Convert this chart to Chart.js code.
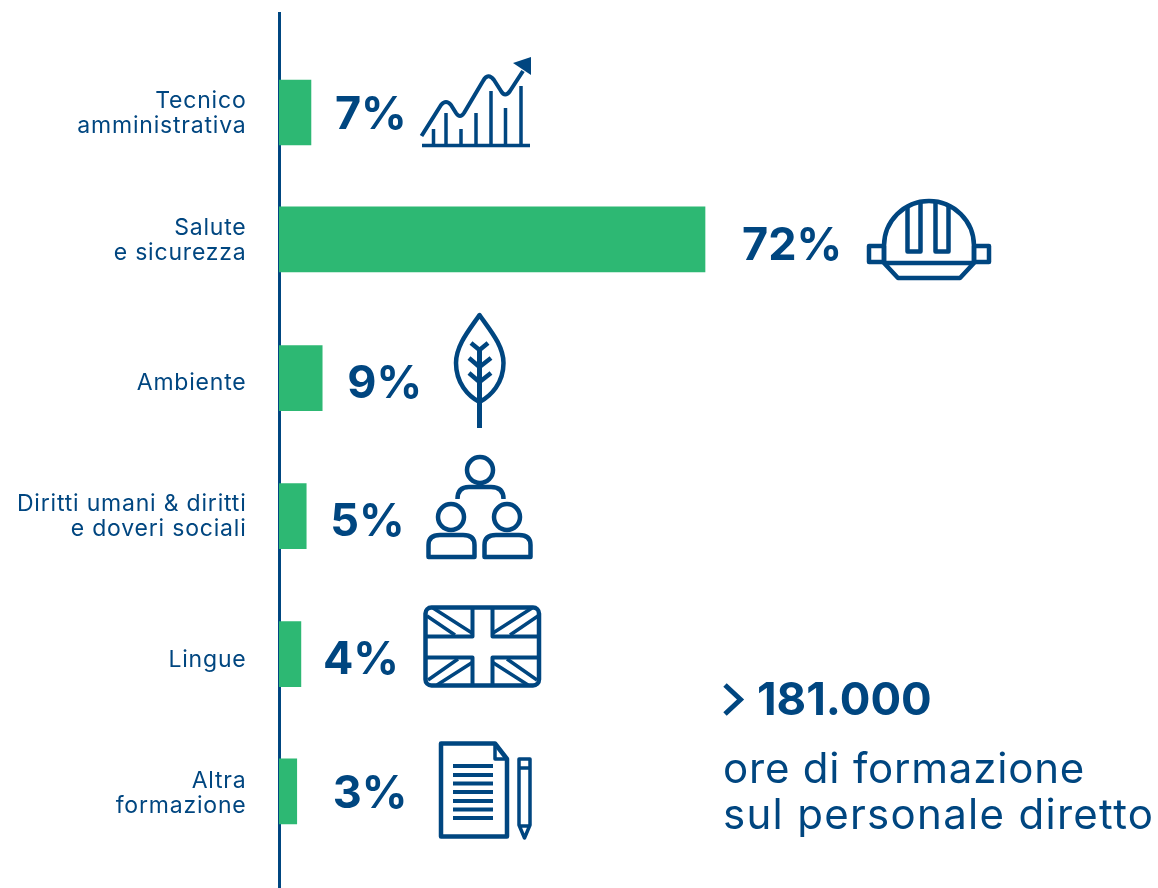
<!DOCTYPE html>
<html lang="it">
<head>
<meta charset="utf-8">
<title>Formazione</title>
<style>
html,body{margin:0;padding:0;background:#fff}
#wrap{width:1158px;height:888px;position:relative}
canvas{display:block}
</style>
<script src="https://cdn.jsdelivr.net/npm/chart.js@4"></script>
</head>
<body>
<div id="wrap"><canvas id="c" width="1158" height="888"></canvas></div>
<script>
const categories = [
  ["Tecnico","amministrativa"],
  ["Salute","e sicurezza"],
  ["Ambiente"],
  ["Diritti umani & diritti","e doveri sociali"],
  ["Lingue"],
  ["Altra","formazione"]
];
const percentLabels = ["7%","72%","9%","5%","4%","3%"];
// bar lengths as drawn in the picture, in the units of the 72% bar
const barValues = [5.4, 72, 7.3, 4.6, 3.7, 3.0];
// uneven row positions, in row units
const rowPositions = [0, 0.92, 1.925, 2.925, 3.925, 4.92];
const noteHead = "181.000";
const noteLines = ["ore di formazione","sul personale diretto"];

const NAVY = "#004680", GREEN = "#2db873";
const FONT = "Inter, sans-serif";
const labelGap = [24, 37, 25, 24, 22, 36];
const labelDrop = [0, 4, 3, 3, 3, 0];
const tickNudge = [1, 1, 5, 0.5, 6, 2];

function icons(ctx){
  ctx.save();
  ctx.strokeStyle = NAVY; ctx.fillStyle = NAVY; ctx.lineJoin = "round"; ctx.lineCap = "butt";
  const P = (d,w)=>{ ctx.lineWidth = w; ctx.stroke(new Path2D(d)); };
  // rising chart
  P("M422 145.5H530",3.5);
  P("M433.5 145V129M446 145V113M461 145V129M476 145V113M491 145V91M505.5 145V108M521 145V86",3.5);
  P("M421.5 136L441 105Q446 99 451 105L456 113Q460 119 464 113L483 81Q488 72 494 80L501 91Q505 98 510 91L523 71",4);
  ctx.fill(new Path2D("M531 57L513 63L531 75Z"));
  // helmet
  P("M884 262V246A45 45 0 0 1 974 246V262",4.5);
  P("M884 263H974L960 278H898Z",4.5);
  P("M869 246H884V262H869ZM974 246H989V262H974Z",4.5);
  P("M907.5 207V251.5H920.5V202.5M935.5 202.5V251.5H948.5V207",4.5);
  // leaf
  P("M479.5 315C470 329 456 345 456 363C456 383 468 396 479.5 402C491 396 503.5 383 503.5 363C503.5 345 489 329 479.5 315Z",4.5);
  P("M479.5 350V428",5);
  P("M471 343L479.5 350L488 343M469 358L479.5 367L491 358M469 373L479.5 382L491 373",4.5);
  // people
  const circ = (x,y,r)=>`M${x+r} ${y}A${r} ${r} 0 1 1 ${x-r} ${y}A${r} ${r} 0 1 1 ${x+r} ${y}Z`;
  P(circ(480,470,13)+circ(451,517,13)+circ(507,517,13),4.5);
  P("M457.5 499Q457.5 487 469 487H491Q503.5 487 503.5 499M480 483V487",4.5);
  P("M428.5 557V545Q428.5 535 440 535H463Q474.5 535 474.5 545V557Z",4.5);
  P("M484.5 557V545Q484.5 535 496 535H519Q530.5 535 530.5 545V557Z",4.5);
  // flag
  ctx.lineWidth = 4.5;
  ctx.beginPath(); ctx.roundRect(425.5,607.5,113.5,78,6); ctx.stroke();
  P("M472.5 608V636.5H425M492.5 608V636.5H539M472.5 685V657.5H425M492.5 685V657.5H539",4);
  P("M433 608L472 633M427 616L455 635M532 608L493 633M538 616L510 635M428 680L458 659M437 685L473 662M537 680L507 659M528 685L492 662",3.5);
  // document
  P("M495 743.5H441V836.5H507V759Z",4.5);
  P("M495 743.5V759H507",3.5);
  P("M453 766H493M453 775H493M453 783.5H493M453 792H493M453 801H493M453 809.5H493M453 818H493",4);
  // pencil
  P("M519 759H530V825L524.5 838L519 825ZM519 768H530M519 826H530",3.5);
  ctx.restore();
}

const decor = {
  id:"decor",
  beforeDraw(chart){ chart.ctx.letterSpacing = "0.8px"; },
  afterDatasetsDraw(chart){
    const {ctx, scales:{x,y}} = chart;
    ctx.save();
    ctx.fillStyle = NAVY;
    ctx.textBaseline = "alphabetic";
    ctx.textAlign = "left";
    // value labels, placed from the bar ends
    ctx.letterSpacing = "0px";
    ctx.font = "700 45px "+FONT;
    barValues.forEach((v,i)=>{
      ctx.fillText(percentLabels[i], x.getPixelForValue(v)+labelGap[i], y.getPixelForValue(rowPositions[i])+17+labelDrop[i]);
    });
    // note
    ctx.font = "700 45.5px "+FONT;
    ctx.fillText(noteHead, 757, 715);
    ctx.font = "400 42px "+FONT;
    ctx.letterSpacing = "0.8px";
    ctx.fillText(noteLines[0], 723, 783);
    ctx.letterSpacing = "1.3px";
    ctx.fillText(noteLines[1], 723, 829);
    ctx.letterSpacing = "0px";
    ctx.lineWidth = 5; ctx.strokeStyle = NAVY; ctx.lineJoin="miter";
    ctx.beginPath(); ctx.moveTo(725,685); ctx.lineTo(740.5,699.5); ctx.lineTo(725,714); ctx.stroke();
    ctx.restore();
    icons(ctx);
  }
};

new Chart(document.getElementById("c"),{
  type:"bar",
  data:{
    datasets:[{
      data: barValues.map((v,i)=>({x:v,y:rowPositions[i]})),
      backgroundColor: GREEN,
      borderWidth:0,
      barThickness:65
    }]
  },
  options:{
    indexAxis:"y",
    responsive:false,
    animation:false,
    layout:{padding:{top:13,left:0,right:0,bottom:0}},
    plugins:{legend:{display:false},tooltip:{enabled:false},title:{display:false}},
    scales:{
      x:{
        type:"linear",min:0,max:148.56,
        display:false
      },
      y:{
        type:"linear",reverse:true,min:-0.721,max:5.62,offset:false,
        afterFit(s){ s.width = 279; s.paddingTop = 0; s.paddingBottom = 0; },
        afterBuildTicks(s){ s.ticks = rowPositions.map((v,i)=>({value:v+tickNudge[i]/138})); },
        grid:{display:false,drawTicks:false},
        border:{display:true,color:NAVY,width:3},
        ticks:{
          padding:32.5,
          autoSkip:false,
          color:NAVY,
          font:{family:FONT,size:23,weight:"400",lineHeight:1.09},
          callback(v,i){ return categories[i]; }
        }
      }
    }
  },
  plugins:[decor]
});
</script>
</body>
</html>
